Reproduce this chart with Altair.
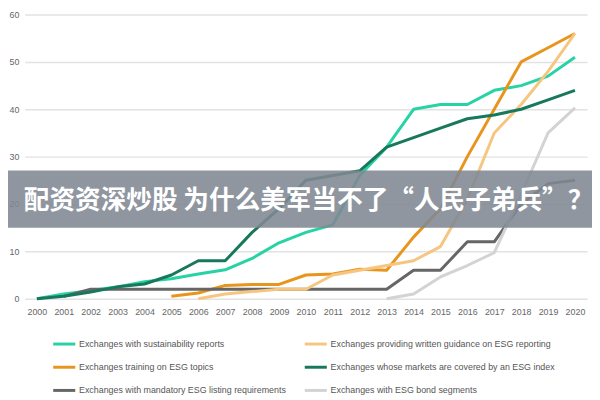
import altair as alt
import pandas as pd

years = ["2000", "2001", "2002", "2003", "2004", "2005", "2006", "2007", "2008", "2009", "2010",
         "2011", "2012", "2013", "2014", "2015", "2016", "2017", "2018", "2019", "2020"]

# legend fills column by column: left column first, then right column
names = [
    "Exchanges with sustainability reports",
    "Exchanges training on ESG topics",
    "Exchanges with mandatory ESG listing requirements",
    "Exchanges providing written guidance on ESG reporting",
    "Exchanges whose markets are covered by an ESG index",
    "Exchanges with ESG bond segments",
]

sustainability_reports = [0, 1, 1.7, 2.5, 3.6, 4.2, 5.2, 6.1, 8.5, 11.8, 14, 15.6, 26, 32, 40, 41, 41, 44, 45, 47, 51]
training = [None, None, None, None, None, 0.5, 1.2, 2.8, 3, 3, 5, 5.2, 6.2, 6, 13, 19, 30, 40, 50, 53, 56]
mandatory = [None, 0.5, 2, 2, 2, 2, 2, 2, 2, 2, 2, 2, 2, 2, 6, 6, 12, 12, 20, 24.3, 25]
written_guidance = [None, None, None, None, None, None, 0, 1, 1.5, 2, 2, 5, 6, 7, 8, 11, 21, 35, 41, 48, 56]
esg_index = [0, 0.5, 1.4, 2.5, 3.1, 5, 8, 8, 14, 19, 25, 26, 27, 32, 34, 36, 38, 38.8, 40, 42, 44]
bond_segments = [None, None, None, None, None, None, None, None, None, None, None, None, None, 0, 1, 4.6, 7, 9.7, 22, 35, 40.3]

colors = ["#27d3a4", "#e8951d", "#666666", "#f6c680", "#17785b", "#d3d3d3"]
widths = [3, 3, 3, 2, 3, 2]

title_text = "配资资深炒股 为什么美军当不了“人民子弟兵”？"

series_values = [sustainability_reports, training, mandatory, written_guidance, esg_index, bond_segments]
rows = []
for name, vals in zip(names, series_values):
    for yr, v in zip(years, vals):
        if v is not None:
            rows.append({"year": yr, "value": v, "series": name})
df = pd.DataFrame(rows)

label_font = "Liberation Sans Narrow, Liberation Sans, sans-serif"

lines = alt.Chart(df).mark_line(strokeJoin="round").encode(
    x=alt.X("year:O", sort=years,
            scale=alt.Scale(type="point", padding=0.45),
            axis=alt.Axis(title=None, labelAngle=0, ticks=False, domain=False, grid=False,
                          labelPadding=9, labelFontSize=9, labelColor="#666666", labelFont=label_font)),
    y=alt.Y("value:Q",
            scale=alt.Scale(domain=[0, 60], nice=False, zero=True),
            axis=alt.Axis(title=None, values=[0, 10, 20, 30, 40, 50, 60], ticks=False, domain=False,
                          grid=True, gridColor="#e2e2e2", gridWidth=1.5,
                          labelPadding=6, labelFontSize=9, labelColor="#666666", labelFont=label_font)),
    color=alt.Color("series:N", sort=names,
                    scale=alt.Scale(domain=names, range=colors),
                    legend=alt.Legend(title=None, orient="none", legendX=27, legendY=321,
                                      columns=2, columnPadding=11, rowPadding=4.5,
                                      symbolType="stroke", symbolSize=500, symbolStrokeWidth=3,
                                      labelFontSize=9, labelColor="#555555", labelFont=label_font,
                                      labelLimit=400, labelOffset=2)),
    strokeWidth=alt.StrokeWidth("series:N", scale=alt.Scale(domain=names, range=widths), legend=None),
    detail="series:N",
)

banner_df = pd.DataFrame({"t": [title_text]})
banner = alt.Chart(banner_df).mark_rect(color="#7f8893", opacity=0.88).encode(
    x=alt.value(-17), x2=alt.value(575), y=alt.value(158), y2=alt.value(216)
)
banner_text = alt.Chart(banner_df).mark_text(
    align="left", baseline="middle", fontSize=26, fontWeight="bold", color="white",
    font="Noto Sans CJK SC"
).encode(x=alt.value(-1), y=alt.value(189), text="t:N")

chart = alt.layer(lines, banner, banner_text).properties(
    width=570, height=288,
    autosize=alt.AutoSizeParams(type="none"),
    padding={"left": 17, "top": 4, "right": 5, "bottom": 96},
).configure_view(stroke=None)

chart.save("out.html", embed_options={"renderer": "svg", "actions": False})
